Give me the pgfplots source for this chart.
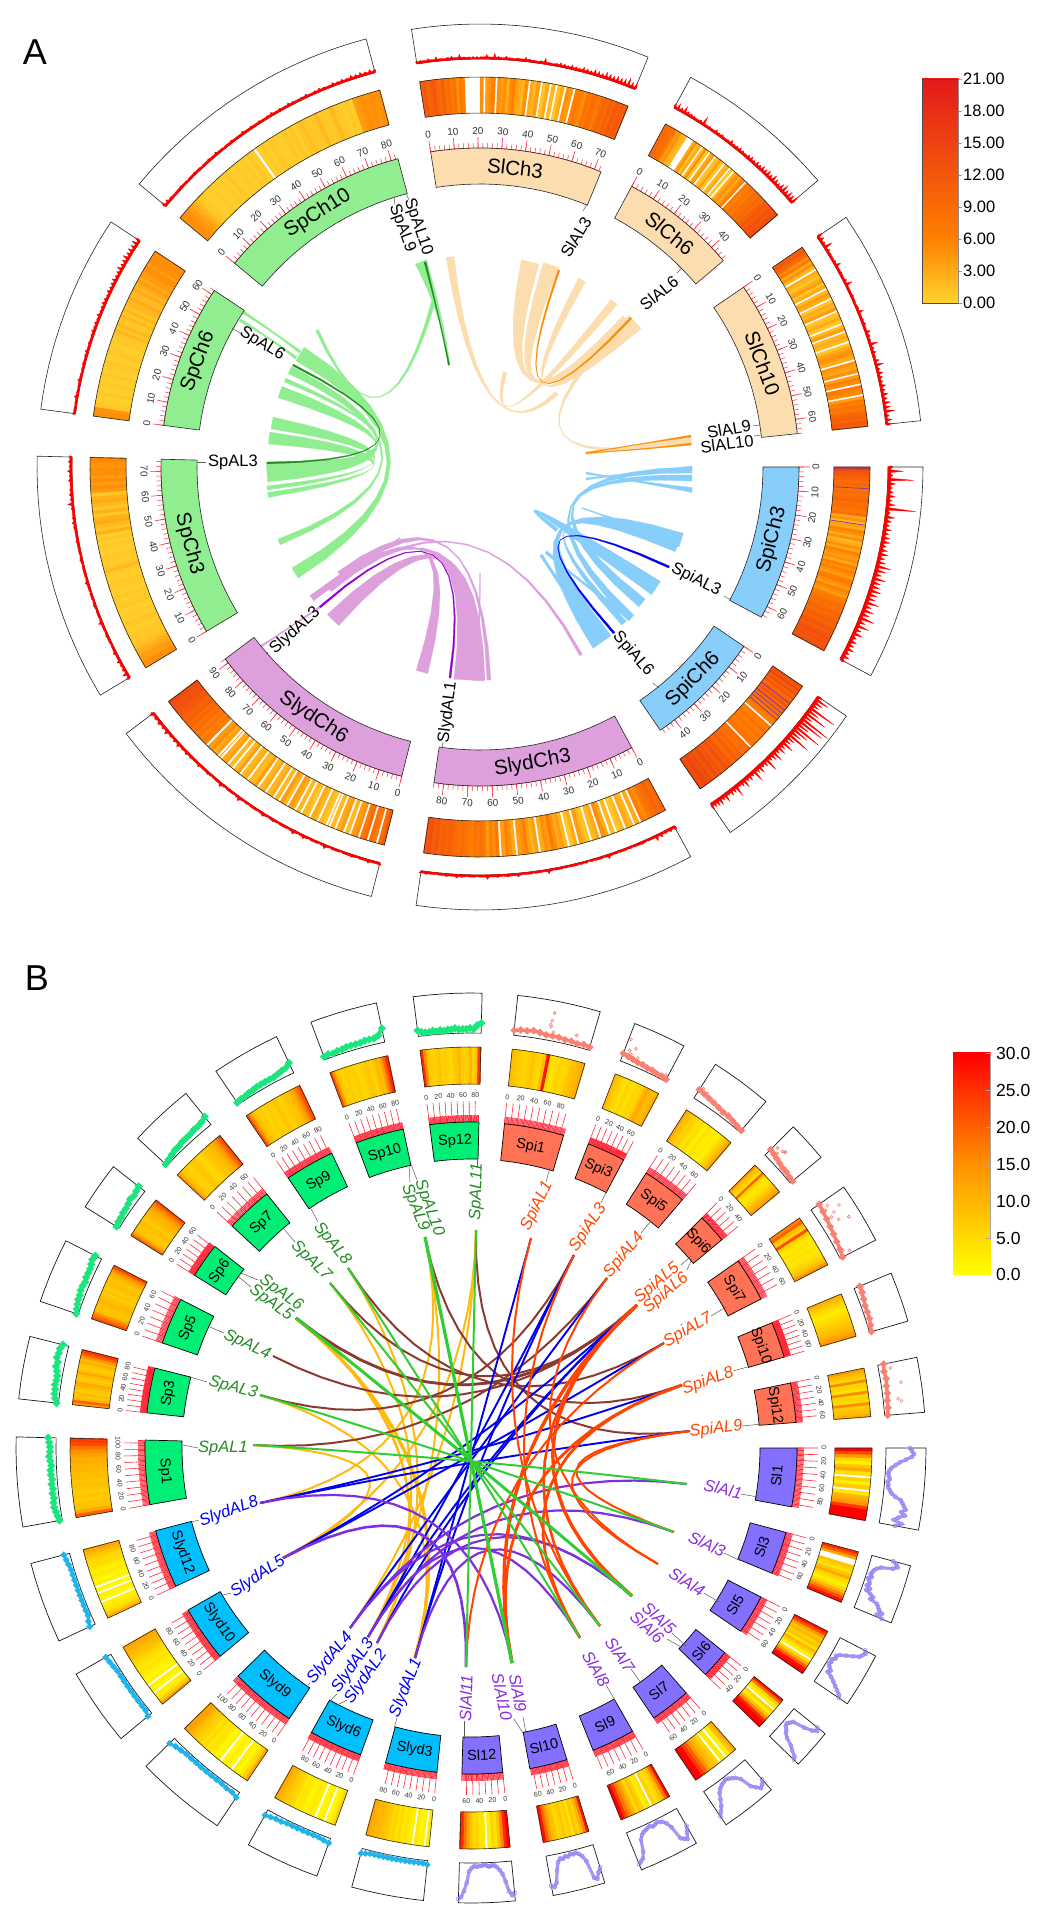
\documentclass[border=0pt]{standalone}
\usepackage{pgfplots}
\pgfplotsset{compat=1.18}
\usepackage{fontspec}
\setmainfont{Liberation Sans}
\definecolor{spc}{HTML}{90EE90}\definecolor{slc}{HTML}{FCDDB0}\definecolor{spic}{HTML}{87CEFA}\definecolor{slyc}{HTML}{DDA0DD}
\definecolor{dspc}{HTML}{228B22}\definecolor{dslc}{HTML}{FF8C00}\definecolor{dspic}{HTML}{0000EE}\definecolor{dslyc}{HTML}{9400D3}
\definecolor{bsp}{HTML}{00EE76}\definecolor{bspi}{HTML}{FF7256}\definecolor{bsl}{HTML}{8470FF}\definecolor{bsly}{HTML}{00BFFF}
\definecolor{tsp}{HTML}{19E67D}\definecolor{tspi}{HTML}{FA8072}\definecolor{tsl}{HTML}{8F80F5}\definecolor{tsly}{HTML}{1FB4EC}
\definecolor{lsp}{HTML}{228B22}\definecolor{lspi}{HTML}{FF4500}\definecolor{lsl}{HTML}{8A2BE2}\definecolor{lsly}{HTML}{0000EE}
\definecolor{lgr}{HTML}{32CD32}\definecolor{lbr}{HTML}{8B3A2F}\definecolor{lgo}{HTML}{FFB90F}\definecolor{lpu}{HTML}{7D30DE}
\definecolor{tickr}{HTML}{FF2A3A}\definecolor{purl}{HTML}{7030C0}
\pgfplotsset{
 colormap={ha}{rgb255(0)=(255,255,255) rgb255(0.8)=(255,255,255) rgb255(1)=(255,212,46) rgb255(7)=(255,128,0) rgb255(22)=(227,26,28) rgb255(31)=(227,26,28)},
 colormap={hb}{rgb255(0)=(255,255,255) rgb255(0.8)=(255,255,225) rgb255(1)=(255,255,0) rgb255(16)=(255,145,0) rgb255(31)=(255,0,0)},
}
\def\tfa{\fontsize{10}{10}\selectfont}
\def\tfb{\fontsize{7}{7}\selectfont}
\def\bfa{\fontsize{20.5}{20.5}\selectfont}
\def\bfb{\fontsize{14.5}{14.5}\selectfont}
\def\gla{\fontsize{16.5}{16.5}\selectfont}
\def\glb{\fontsize{16.5}{16.5}\selectfont\itshape}
\def\cba{\fontsize{16.5}{16.5}\selectfont}
\def\cbb{\fontsize{17.5}{17.5}\selectfont}
\def\tlw{.5}\def\trs{.75}\def\trb{2.2}
\def\ptadd#1#2{\pgfmathsetmacro\xx{\CX+(#1)*cos(#2)}\pgfmathsetmacro\yy{\CY-(#1)*sin(#2)}\xdef\cc{\cc(\xx,\yy)}}
\def\ptaddm#1#2#3{\pgfmathsetmacro\xx{\CX+(#1)*cos(#2)}\pgfmathsetmacro\yy{\CY-(#1)*sin(#2)}\xdef\cc{\cc(\xx,\yy)[#3]}}
\def\ptaddw#1#2{\pgfmathsetmacro\xx{\CX+(#1)*cos(#2)}\pgfmathsetmacro\yy{\CY-(#1)*sin(#2)}\xdef\cw{\cw(\xx,\yy)[-1]}}
\def\arcadd#1#2#3{\pgfmathtruncatemacro\nn{max(2,ceil(abs((#3)-(#2))/2))}\foreach \i in {0,...,\nn}{\ptadd{#1}{(#2)+((#3)-(#2))*\i/\nn}}}
\def\wedge#1#2#3#4#5{\gdef\cc{}\arcadd{#2}{#3}{#4}\arcadd{#1}{#4}{#3}\edef\tmp{\noexpand\addplot[#5] coordinates {\cc} --cycle;}\tmp}
\def\countlist#1{\gdef\hn{0}\foreach \v in {#1}{\pgfmathtruncatemacro\tt{\hn+1}\xdef\hn{\tt}}}
\def\heat#1#2#3#4#5#6{\countlist{#6}\gdef\cc{}\gdef\cw{}\gdef\hi{0}\gdef\pv{3}%
 \foreach \v in {#6}{%
  \pgfmathsetmacro\aa{(#3)+((#4)-(#3))*\hi/\hn}%
  \pgfmathsetmacro\ab{(#3)+((#4)-(#3))*(\hi+1)/\hn+((#4)>(#3)?0.05:-0.05)}%
  \ifdim\v pt=-1pt
   \ptaddm{#1}{\aa}{\pv}\ptaddm{#2}{\aa}{\pv}\ptaddm{#2}{\ab}{\pv}\ptaddm{#1}{\ab}{\pv}%
   \pgfmathsetmacro\ac{(\aa)+((#4)-(#3))*0.28/\hn}\pgfmathsetmacro\ad{(\aa)+((#4)-(#3))*0.7/\hn}%
   \ptaddw{#1}{\ac}\ptaddw{#2}{\ac}\ptaddw{#2}{\ad}\ptaddw{#1}{\ad}%
  \else
   \ptaddm{#1}{\aa}{\v}\ptaddm{#2}{\aa}{\v}\ptaddm{#2}{\ab}{\v}\ptaddm{#1}{\ab}{\v}%
   \ifdim\v pt>-1pt \xdef\pv{\v}\fi
  \fi
  \pgfmathtruncatemacro\tt{\hi+1}\xdef\hi{\tt}}%
 \edef\tmp{\noexpand\addplot[patch,patch type=rectangle,shader=flat,point meta=explicit,colormap name=#5] coordinates {\cc};}\tmp
 \ifx\cw\empty\else
 \edef\tmp{\noexpand\addplot[patch,patch type=rectangle,shader=flat,point meta=explicit,colormap name=#5] coordinates {\cw};}\tmp
 \fi
 \wedge{#1}{#2}{#3}{#4}{draw=black!85,line width=.6pt}}
% comb of spikes on a thin base band
\def\track#1#2#3#4#5{\countlist{#4}\gdef\cc{}\gdef\hi{0}\ptadd{#1}{#2}%
 \foreach \v in {#4}{\pgfmathsetmacro\aa{(#2)+((#3)-(#2))*\hi/(\hn-1)}\pgfmathsetmacro\da{((#3)-(#2))/(\hn-1)*0.3}%
  \ptadd{(#1)+\trb}{\aa-\da}\ptadd{(#1)+\trs*\v}{\aa}\ptadd{(#1)+\trb}{\aa+\da}\pgfmathtruncatemacro\tt{\hi+1}\xdef\hi{\tt}}%
 \arcadd{#1}{#3}{#2}\edef\tmp{\noexpand\addplot[#5] coordinates {\cc} --cycle;}\tmp}
\def\ptrack#1#2#3#4#5{\countlist{#4}\gdef\cc{}\gdef\hi{0}%
 \foreach \v in {#4}{\ptadd{(#1)+\v}{(#2)+((#3)-(#2))*\hi/(\hn-1)}\pgfmathtruncatemacro\tt{\hi+1}\xdef\hi{\tt}}%
 \edef\tmp{\noexpand\addplot[#5] coordinates {\cc};}\tmp}
\def\otrack#1#2#3#4#5{\gdef\cc{}\foreach \f/\v in {#4}{\ptadd{(#1)+\v}{(#2)+((#3)-(#2))*\f}}\edef\tmp{\noexpand\addplot[#5] coordinates {\cc};}\tmp}
\def\rad#1#2#3#4{\gdef\cc{}\ptadd{#1}{#3}\ptadd{#2}{#3}\edef\tmp{\noexpand\addplot[color=#4,line width=.6pt] coordinates {\cc};}\tmp}
\def\ticks#1#2#3#4#5#6#7#8#9{\gdef\cc{}\foreach \v in {0,#5,...,#3}{\pgfmathsetmacro\aa{(#1)+((#2)-(#1))*\v/(#3)}\ptadd{#4}{\aa}\ptadd{(#4)+(#6)}{\aa}\ptadd{#4}{\aa}}%
 \edef\tmp{\noexpand\addplot[color=tickr,line width=\tlw pt] coordinates {\cc};}\tmp
 \gdef\cc{}\foreach \v in {0,#7,...,#3}{\pgfmathsetmacro\aa{(#1)+((#2)-(#1))*\v/(#3)}\ptadd{#4}{\aa}\ptadd{(#4)+(#8)}{\aa}\ptadd{#4}{\aa}}%
 \edef\tmp{\noexpand\addplot[color=tickr,line width=.6pt] coordinates {\cc};}\tmp
 \ticklabels{#1}{#2}{#3}{#9}}
\def\ticklabels#1#2#3#4#5#6{\pgfmathsetmacro\mid{((#1)+(#2))/2}\pgfmathsetmacro\sm{sin(\mid)}%
 \foreach \v in {0,#4,...,#3}{\pgfmathsetmacro\aa{(#1)+((#2)-(#1))*\v/(#3)}%
  \pgfmathsetmacro\rr{\sm<0?\aa+90:\aa-90}\gdef\cc{}%
  \pgfmathsetmacro\xx{\CX+(#5)*cos(\aa)}\pgfmathsetmacro\yy{\CY-(#5)*sin(\aa)}%
  \edef\tmp{\noexpand\node[rotate=\rr,font=\noexpand#6,inner sep=0pt,text=black!80] at (axis cs:\xx,\yy) {\v};}\tmp}}
\def\bandlab#1#2#3#4#5{\pgfmathsetmacro\mid{((#2)+(#3))/2}\pgfmathsetmacro\sm{sin(\mid)}\pgfmathsetmacro\rr{\sm<0?\mid+90:\mid-90}%
 \pgfmathsetmacro\xx{\CX+(#1)*cos(\mid)}\pgfmathsetmacro\yy{\CY-(#1)*sin(\mid)}%
 \edef\tmp{\noexpand\node[rotate=\rr,font=\noexpand#5,inner sep=0pt] at (axis cs:\xx,\yy) {#4};}\tmp}
\def\secA#1#2#3#4#5#6#7{%
 \wedge{408}{443}{#2}{#3}{fill=white,draw=black!85,line width=.6pt}%
 \track{408}{#2}{#3}{#7}{fill=red,draw=red,line width=.3pt}%
 \heat{354}{390}{#2}{#3}{ha}{#6}%
 \ticks{#2}{#3}{#4}{319}{2}{5}{10}{11}{10}{336}{\tfa}%
 \wedge{283}{319}{#2}{#3}{fill=#5,draw=black!85,line width=.6pt}%
 \bandlab{301}{#2}{#3}{#1}{\bfa}}
\def\secB#1#2#3#4#5#6{%
 \wedge{415}{455}{#2}{#3}{fill=white,draw=black!90,line width=.7pt}%
 \heat{364}{401}{#2}{#3}{hb}{#6}%
 \ticks{#2}{#3}{#4}{326}{2}{7}{10}{21}{20}{353}{\tfb}%
 \wedge{289}{326}{#2}{#3}{fill=#5,draw=black,line width=.7pt}%
 \bandlab{307}{#2}{#3}{#1}{\bfb}}
\def\SPT#1#2#3{\ptrack{415}{#1}{#2}{#3}{color=tsp,line width=3.6pt,mark=*,mark size=1.6pt,mark options={fill=tsp}}}
\def\SYT#1#2#3{\ptrack{415}{#1}{#2}{#3}{color=tsly,line width=3.2pt,mark=*,mark size=1.2pt,mark options={fill=tsly}}}
\def\SIT#1#2#3#4{\ptrack{415}{#1}{#2}{#3}{color=tspi,line width=3.4pt,mark=*,mark size=1.4pt,mark options={fill=tspi}}\otrack{415}{#1}{#2}{#4}{only marks,mark=o,mark size=1.5pt,color=tspi,line width=.6pt}}
\def\SLT#1#2#3{\ptrack{415}{#1}{#2}{#3}{color=tsl,line width=3.2pt,opacity=.8,mark=o,mark size=2pt,mark options={draw=tsl,line width=.7pt}}}
\def\rib#1#2#3#4#5#6#7#8#9{%
 \pgfmathsetmacro\dxa{(#5)-(#2)}\pgfmathsetmacro\dya{(#6)-(#3)}\pgfmathsetmacro\la{veclen(\dxa,\dya)}%
 \pgfmathsetmacro\dxb{(#7)-(#5)}\pgfmathsetmacro\dyb{(#8)-(#6)}\pgfmathsetmacro\lb{veclen(\dxb,\dyb)}%
 \pgfmathsetmacro\nxa{-\dya/\la*(#4)/2}\pgfmathsetmacro\nya{\dxa/\la*(#4)/2}%
 \pgfmathsetmacro\nxb{-\dyb/\lb*(#9)/2}\pgfmathsetmacro\nyb{\dxb/\lb*(#9)/2}%
 \gdef\cc{}%
 \foreach \i in {0,...,12}{\pgfmathsetmacro\tq{\i/12}\pgfmathsetmacro\ua{(1-\tq)*(1-\tq)}\pgfmathsetmacro\ub{2*\tq*(1-\tq)}\pgfmathsetmacro\uc{\tq*\tq}%
  \pgfmathsetmacro\xx{\ua*((#2)+\nxa)+\ub*(#5)+\uc*((#7)+\nxb)}\pgfmathsetmacro\yy{\ua*((#3)+\nya)+\ub*(#6)+\uc*((#8)+\nyb)}\xdef\cc{\cc(\xx,\yy)}}%
 \foreach \i in {12,...,0}{\pgfmathsetmacro\tq{\i/12}\pgfmathsetmacro\ua{(1-\tq)*(1-\tq)}\pgfmathsetmacro\ub{2*\tq*(1-\tq)}\pgfmathsetmacro\uc{\tq*\tq}%
  \pgfmathsetmacro\xx{\ua*((#2)-\nxa)+\ub*(#5)+\uc*((#7)-\nxb)}\pgfmathsetmacro\yy{\ua*((#3)-\nya)+\ub*(#6)+\uc*((#8)-\nyb)}\xdef\cc{\cc(\xx,\yy)}}%
 \edef\tmp{\noexpand\addplot[fill=#1,draw=#1,line width=.2pt] coordinates {\cc} --cycle;}\tmp}
\def\lk#1#2#3#4#5#6{\gdef\cc{}\foreach \i in {0,...,16}{\pgfmathsetmacro\tq{\i/16}\pgfmathsetmacro\ua{(1-\tq)*(1-\tq)}\pgfmathsetmacro\ub{2*\tq*(1-\tq)}\pgfmathsetmacro\uc{\tq*\tq}%
  \pgfmathsetmacro\xx{\ua*(#3)+\ub*471+\uc*(#5)}\pgfmathsetmacro\yy{\ua*(#4)+\ub*1458+\uc*(#6)}\xdef\cc{\cc(\xx,\yy)}}%
 \edef\tmp{\noexpand\addplot[color=#1,line width=#2pt] coordinates {\cc};}\tmp}
\def\con#1#2#3#4{\addplot[color=black!65,line width=.5pt] coordinates {(#1,#2)(#3,#4)};}
\def\glA#1#2#3#4{\node[rotate=#3,font=\gla,inner sep=0pt] at (axis cs:#1,#2) {#4};}
\def\glB#1#2#3#4#5{\node[rotate=#3,font=\glb,inner sep=0pt,text=#5] at (axis cs:#1,#2) {#4};}
\def\cbar#1#2#3#4#5#6{\gdef\cc{}\foreach \i in {0,...,59}{\pgfmathsetmacro\vv{(#5)*(\i+.5)/60}\pgfmathsetmacro\ya{(#4)+((#3)-(#4))*\i/60}\pgfmathsetmacro\yb{(#4)+((#3)-(#4))*(\i+1.1)/60}%
 \xdef\cc{\cc(#1,\ya)[\vv](#2,\ya)[\vv](#2,\yb)[\vv](#1,\yb)[\vv]}}%
 \edef\tmp{\noexpand\addplot[patch,patch type=rectangle,shader=flat,point meta=explicit,colormap name=#6] coordinates {\cc};}\tmp}
\begin{document}
\begin{tikzpicture}
\begin{axis}[scale only axis,width=1048pt,height=1921pt,xmin=0,xmax=1048,ymin=0,ymax=1921,y dir=reverse,hide axis,clip=false,point meta min=-1,point meta max=30]
\path (axis cs:0,0) rectangle (axis cs:1048,1921);
\addplot[draw=none] coordinates {(0,0)(1048,1921)};
\def\CX{480}\def\CY{467}
% ---------- panel A ribbons
\rib{spc}{421}{262}{12}{444}{320}{449}{365}{2}
\rib{spc}{317}{330}{3}{384}{479}{434}{300}{4}
\rib{spc}{243}{312}{3}{275}{333}{300}{352}{3}
\rib{spc}{240}{320}{3}{270}{338}{296}{358}{3}
\rib{spc}{300}{354}{16}{480}{462}{295}{573}{12}
\rib{spc}{290}{370}{8}{480}{462}{279}{542}{6}
\rib{spc}{280}{392}{12}{480}{462}{267}{472}{20}
\rib{spc}{272}{423}{12}{480}{462}{267}{488}{4}
\rib{spc}{269}{438}{12}{480}{462}{268}{495}{5}
\rib{spc}{285}{380}{4}{480}{462}{267}{470}{10}
\rib{dspc}{293}{365}{1.8}{480}{460}{267}{463}{1.8}
\rib{dspc}{425}{262}{2}{440}{320}{449}{365}{1.5}
\rib{slc}{530}{262}{18}{480}{467}{635}{322}{18}
\rib{slc}{551}{265}{16}{480}{467}{625}{318}{6}
\rib{slc}{582}{280}{8}{480}{467}{637}{325}{10}
\rib{slc}{614}{302}{8}{480}{467}{505}{372}{4}
\rib{slc}{450}{257}{8}{480}{467}{557}{393}{4}
\rib{slc}{627}{320}{6}{480}{467}{650}{447}{4}
\rib{slc}{691}{440}{10}{640}{447}{586}{453}{3}
\rib{dslc}{559}{270}{2}{489}{470}{631}{318}{2}
\rib{dslc}{691}{436}{2}{640}{444}{586}{453}{1}
\rib{dslc}{691}{444}{2}{640}{450}{586}{453}{1}
\rib{spic}{681}{540}{14}{480}{470}{602}{642}{22}
\rib{spic}{677}{547}{10}{480}{470}{624}{623}{6}
\rib{spic}{692}{470}{6}{480}{470}{631}{618}{8}
\rib{spic}{692}{478}{6}{480}{470}{642}{603}{10}
\rib{spic}{692}{490}{5}{640}{482}{586}{473}{2}
\rib{spic}{692}{468}{4}{640}{472}{586}{479}{2}
\rib{spic}{582}{508}{1}{630}{525}{681}{540}{14}
\rib{spic}{656}{588}{16}{480}{470}{557}{530}{4}
\rib{spic}{541}{555}{3}{570}{600}{600}{640}{16}
\rib{spic}{546}{552}{3}{590}{590}{631}{618}{6}
\rib{dspic}{669}{567}{2.2}{479}{480}{614}{633}{2.2}
\rib{slyc}{312}{598}{6}{480}{467}{469}{680}{30}
\rib{slyc}{333}{620}{16}{480}{467}{475}{680}{20}
\rib{slyc}{422}{672}{12}{480}{467}{312}{598}{6}
\rib{slyc}{489}{680}{4}{480}{467}{340}{575}{8}
\rib{slyc}{581}{655}{3}{480}{467}{330}{590}{4}
\rib{slyc}{400}{538}{1}{360}{565}{312}{598}{6}
\rib{slyc}{260}{647}{2}{290}{627}{320}{607}{2}
\rib{slyc}{480}{573}{1}{480}{630}{475}{680}{6}
\rib{dslyc}{320}{607}{2}{480}{467}{450}{678}{2}
% ---------- panel A sectors
\secA{SlCh3}{98.9}{67.7}{73}{slc}{11,12,10,11,12,10,9,11,8,9,7,8,5,7,6,-2,-2,-2,-2,-2,5,-1,4,5,6,-1,5,4,5,3,5,6,4,3,2,5,-1,3,2,4,-1,1,3,-1,2,-1,1,3,-1,5,4,-1,6,7,6,5,8,7,9,8,7,9,10,9,11,10,12,11,12,11}{3,4,3,5,3,6,3,2,4,5,3,7,3,2,1,1,1,3,6,3,8,4,2,5,3,2,4,3,6,4,3,2,4,8,3,2,4,6,5,4,6,5,4,7,6,5,8,7,6,9,8,7,9,8,9,12,8,9}
\secA{SlCh6}{61.6}{40.3}{47}{slc}{9,10,8,9,8,6,4,5,3,2,2,-2,-2,-2,3,5,1,3,-1,2,5,1,-1,3,4,-1,1,2,4,1,-1,2,3,-1,1,-1,2,4,5,3,5,6,-1,7,6,7,8,7,8,9,8,10,9,10,11,12,11,12,13,12,13,14}{7,9,6,10,6,5,4,3,5,12,3,4,3,6,4,5,3,4,7,4,5,6,5,4,6,7,5,7,6,8,7,9,7,10,8,6,9,12,8,10,9,12}
\secA{SlCh10}{34.3}{6}{66}{slc}{11,12,10,9,5,7,3,5,2,-1,3,2,1,3,4,1,3,-1,2,4,3,-1,1,3,2,4,-1,1,2,3,1,-1,2,4,-1,2,3,2,-1,1,3,4,5,4,3,-1,5,4,3,5,-1,4,6,5,-1,7,6,5,-1,4,7,6,8,7,9,10,11,10,12,11}{9,7,5,12,5,4,3,4,8,3,4,3,5,10,3,3,4,3,2,4,8,3,4,5,3,7,5,4,12,5,6,4,7,11,5,8,6,5,8,6,9,7,10,9,14,6,9,8}
\def\trs{1}\def\trb{3}
\secA{SpiCh3}{0}{-28.1}{65}{spic}{16,13,12,11,10,9,10,9,8,9,8,9,10,8,9,8,7,9,3,5,2,4,3,6,5,3,5,2,3,5,3,6,5,4,5,3,6,5,6,5,4,6,7,5,4,6,5,4,6,7,8,9,8,9,10,9,10,11,10,11,12,11,12,13,12,13,12,13}{5,15,5,26,8,5,6,8,5,9,30,5,10,7,6,8,6,8,9,6,8,10,7,9,15,11,8,13,9,10,12,10,9,14,8,12,9,16,8,13,7,10,6,8,7,9,6,8,6}
\rad{354}{390}{-0.3}{purl}\rad{354}{390}{-3.2}{purl}\rad{354}{390}{-8.6}{purl}
\secA{SpiCh6}{-34.2}{-55.6}{47}{spic}{13,12,14,11,13,10,12,9,11,10,13,9,11,8,9,8,7,8,7,6,-1,7,6,7,8,6,7,8,6,7,8,7,-1,9,8,9,8,10,9,10,11,9,10,12,11,13,12,11,13,12,14,13,12,14,13,14,15,13,14}{6,15,10,8,30,13,24,10,33,28,14,30,18,12,25,10,8,14,7,10,6,12,8,6,15,7,5,9,6,13,5,7,5,10,6,4,12,6,7,4,9,5,8,7,6,8}
\rad{354}{390}{-37.4}{purl}\rad{354}{390}{-38.6}{purl}\rad{354}{390}{-39.2}{purl}\rad{354}{390}{-39.8}{purl}\rad{354}{390}{-40.4}{purl}
\def\trs{.75}\def\trb{2.2}
\secA{SlydCh3}{-61.6}{-98.3}{84}{slyc}{10,9,10,9,8,7,5,6,-1,3,-1,2,3,-1,2,1,-1,2,-1,3,5,-1,3,2,-1,1,2,4,-1,3,1,-1,2,4,3,5,7,4,5,3,-1,4,2,4,6,5,4,-1,3,5,6,4,-1,7,5,6,4,7,8,7,8,6,7,8,9,8,9,10,11,10,11,10,12,11,13,12}{6,5,4,6,8,3,2,4,3,2,2,3,2,2,6,2,3,2,1,2,2,3,2,2,3,2,6,2,3,2,3,2,5,3,4,2,4,3,6,3,2,3,2,4,5,3,4,3,2,3,4,3}
\secA{SlydCh6}{-104.2}{-143}{92}{slyc}{12,9,-1,7,8,-1,9,7,-1,5,4,-1,2,-1,4,3,-1,2,-1,-1,1,2,-1,2,3,-1,1,2,-1,2,-1,3,4,-1,2,4,-1,2,-1,3,2,-1,3,2,-1,4,2,2,-1,3,2,-1,4,2,-1,2,-1,4,3,-1,-1,4,3,5,4,-1,6,7,6,8,7,9,8,10,9,11,10,11,12,12,13,13,13,14}{4,3,5,3,2,4,3,2,3,2,6,2,3,2,5,2,6,2,3,2,4,2,5,2,3,2,2,6,2,3,2,6,3,2,4,3,5,3,4,5,4,6,5,4,7,5,6,5,7}
\secA{SpCh3}{211}{178.6}{75}{spc}{5,5,4,4,3,2.5,1.5,1,0.7,1,0.7,0.4,0.7,1,0.4,0.7,0.4,0.4,1,0.7,0.4,1,0.4,0.4,0.7,1,0.4,0.4,0.7,2,1,0.4,0.7,1,0.4,0.4,0.7,0.4,1,0.4,2.5,1,2,3,2.5,1,2.5,1,2,3,2.5,1,4,5,4,5,4,5,5,4.5,5,5.5}{6,8,5,4,6,3,5,3,2,3,4,2,3,6,2,3,2,4,2,3,2,3,5,2,3,3,2,4,2,3,3,4,3,3,4,5,4,3,4,8,4,5,4,3,5,4,6,4,5,4}
\secA{SpCh6}{172.5}{146.4}{62}{spc}{5,5,4.5,1,0.7,0.4,0.4,1,0.4,0.4,0.7,0.4,0.4,1,0.4,0.4,0.7,1,0.4,0.4,1,0.7,0.4,0.4,1,0.7,1,2,1,2,1,1,2,1,2,1,2,2,3,2,2,3,2,3,4,3,4,4,5,5,4,5,5,5,5}{4,3,2,3,5,3,2,3,5,3,2,3,4,3,4,5,3,4,3,4,5,4,5,4,6,4,5,6,5,4,6,5,6,7,5,6,8,6,7,9,7,8,7,9,8}
\secA{SpCh10}{140.3}{104.9}{83}{spc}{5,5,4.5,4,3,2,1,0.7,0.4,0.4,0.7,0.4,0.4,0.7,0.4,1,0.4,0.4,0.7,0.4,0.7,0.4,1,0.4,-1,0.4,0.7,0.4,1,0.7,0.4,0.4,1,0.7,1,0.4,1,1.5,1,0.7,1,2,1,0.7,1,2,1,0.7,0.4,1,0.4,4,4.5,5,4.5,5,4.5,5}{8,6,4,3,3,4,3,2,3,4,3,2,3,4,3,5,3,2,3,4,3,3,5,3,4,3,4,3,4,5,3,4,3,5,4,3,4,5,3,4,5,4,3,5,4,5,4,6,5,6,5,6,5}
% gene labels A
\glA{418}{227}{-71}{SpAL10}\glA{402}{228}{-70}{SpAL9}\glA{262}{344}{-32}{SpAL6}\glA{233}{462}{0}{SpAL3}
\glA{576}{237}{59}{SlAL3}\glA{659}{293}{39}{SlAL6}\glA{729}{429}{10}{SlAL9}\glA{727}{444}{7}{SlAL10}
\glA{696}{580}{-27}{SpiAL3}\glA{633}{654}{-49}{SpiAL6}\glA{295}{631}{42}{SlydAL3}\glA{448}{712}{83}{SlydAL1}
\con{406}{193}{409}{200}\con{394}{197}{395}{205}\con{232}{328}{240}{333}\con{197}{462}{206}{462}
\con{587}{204}{583}{211}\con{682}{268}{677}{273}\con{760}{425}{753}{426}\con{761}{435}{754}{436}
\con{731}{600}{724}{596}\con{659}{688}{653}{683}\con{268}{652}{266}{654}\con{442}{748}{443}{742}
% colour bar A
\cbar{922}{958}{79}{303}{21}{ha}
\addplot[draw=black!70,line width=.6pt] coordinates {(922,79)(958,79)(958,303)(922,303)} --cycle;
\addplot[color=black!45,line width=.5pt] coordinates {(958,79)(962,79)(958,79)(958,111)(962,111)(958,111)(958,143)(962,143)(958,143)(958,175)(962,175)(958,175)(958,207)(962,207)(958,207)(958,239)(962,239)(958,239)(958,271)(962,271)(958,271)(958,303)(962,303)};
\node[font=\cba,anchor=west,inner sep=0pt] at (axis cs:963,79) {21.00};
\node[font=\cba,anchor=west,inner sep=0pt] at (axis cs:963,111) {18.00};
\node[font=\cba,anchor=west,inner sep=0pt] at (axis cs:963,143) {15.00};
\node[font=\cba,anchor=west,inner sep=0pt] at (axis cs:963,175) {12.00};
\node[font=\cba,anchor=west,inner sep=0pt] at (axis cs:963,207) {9.00};
\node[font=\cba,anchor=west,inner sep=0pt] at (axis cs:963,239) {6.00};
\node[font=\cba,anchor=west,inner sep=0pt] at (axis cs:963,271) {3.00};
\node[font=\cba,anchor=west,inner sep=0pt] at (axis cs:963,303) {0.00};
\node[font=\fontsize{36}{36}\selectfont,inner sep=0pt] at (axis cs:35,52) {A};
\node[font=\fontsize{36}{36}\selectfont,inner sep=0pt] at (axis cs:37,978) {B};
% ---------- panel B links
\def\CX{471}\def\CY{1448}\def\tlw{.75}
\lk{lgo}{3.4}{296}{1318}{415}{1658}
\lk{lgo}{2.6}{296}{1318}{377}{1643}
\lk{lgo}{2}{425}{1237}{368}{1637}
\lk{lgo}{2}{476}{1230}{350}{1628}
\lk{lgo}{2}{348}{1268}{377}{1643}
\lk{lgo}{2}{260}{1395}{415}{1658}
\lk{lgo}{2}{253}{1445}{283}{1558}
\lk{lgo}{2}{260}{1503}{425}{1237}
\lk{lgo}{2}{283}{1558}{476}{1230}
\lk{lgo}{2}{330}{1283}{368}{1637}
\lk{lbr}{2}{253}{1445}{607}{1278}
\lk{lbr}{2}{260}{1395}{574}{1255}
\lk{lbr}{2}{273}{1356}{637}{1305}
\lk{lbr}{2.8}{296}{1318}{637}{1305}
\lk{lbr}{2}{296}{1318}{637}{1305}
\lk{lbr}{2}{330}{1283}{637}{1305}
\lk{lbr}{2}{348}{1268}{664}{1343}
\lk{lbr}{2}{425}{1237}{682}{1385}
\lk{lbr}{2}{476}{1230}{690}{1431}
\lk{dspic}{1.9}{415}{1658}{574}{1255}
\lk{dspic}{1.9}{415}{1658}{531}{1238}
\lk{dspic}{1.9}{377}{1643}{637}{1305}
\lk{dspic}{1.9}{368}{1637}{637}{1305}
\lk{dspic}{1.9}{350}{1628}{607}{1278}
\lk{dspic}{1.9}{283}{1558}{664}{1343}
\lk{dspic}{1.9}{283}{1558}{637}{1305}
\lk{dspic}{1.9}{260}{1503}{690}{1431}
\lk{dspic}{1.9}{260}{1503}{682}{1385}
\lk{dspic}{1.9}{368}{1637}{574}{1255}
\lk{lpu}{2.2}{260}{1503}{512}{1663}
\lk{lpu}{2.6}{283}{1558}{466}{1667}
\lk{lpu}{2.2}{350}{1628}{632}{1596}
\lk{lpu}{2.2}{368}{1637}{674}{1532}
\lk{lpu}{2.2}{377}{1643}{632}{1596}
\lk{lpu}{2.2}{415}{1658}{600}{1626}
\lk{lpu}{2.2}{350}{1628}{687}{1484}
\lk{lpu}{2.2}{368}{1637}{580}{1638}
\lk{lspi}{2}{531}{1238}{600}{1626}
\lk{lspi}{2}{574}{1255}{580}{1638}
\lk{lspi}{2}{607}{1278}{658}{1564}
\lk{lspi}{3.4}{637}{1305}{632}{1596}
\lk{lspi}{3.4}{637}{1305}{512}{1663}
\lk{lspi}{2.6}{637}{1305}{600}{1626}
\lk{lspi}{2}{664}{1343}{466}{1667}
\lk{lspi}{2.8}{682}{1385}{580}{1638}
\lk{lspi}{2.8}{682}{1385}{512}{1663}
\lk{lspi}{2}{690}{1431}{674}{1532}
\lk{lspi}{2}{690}{1431}{658}{1564}
\lk{lgr}{2}{253}{1445}{687}{1484}
\lk{lgr}{2}{260}{1395}{674}{1532}
\lk{lgr}{3}{296}{1318}{632}{1596}
\lk{lgr}{2}{330}{1283}{600}{1626}
\lk{lgr}{2}{348}{1268}{580}{1638}
\lk{lgr}{3.2}{425}{1237}{512}{1663}
\lk{lgr}{2}{476}{1230}{466}{1667}
% ---------- panel B sectors
\secB{Sp1}{190}{178.6}{105}{bsp}{20,12,8,8,7,8,7,8,9,8,9,9,10,10,11,11,13,15,18,22,24}
\secB{Sp3}{173.8}{165.8}{88}{bsp}{14,20,10,8,9,7,8,10,12,8,7,9,12,8,7,8,11,9,14,20,24}
\secB{Sp5}{161.2}{152.9}{72}{bsp}{22,18,14,9,8,8,9,10,9,8,7,8,7,8,9,8,8,10,12,16,22}
\secB{Sp6}{148}{141.8}{63}{bsp}{20,15,10,8,8,7,8,9,8,7,8,9,10,10,11,13,15,18,22}
\secB{Sp7}{137.1}{128.8}{70}{bsp}{15,10,8,7,6,6,7,8,7,6,5,6,7,8,8,9,10,12,14,18,22}
\secB{Sp9}{124.1}{115.3}{84}{bsp}{22,15,10,8,7,7,6,7,7,6,7,8,7,6,7,8,8,9,11,14,18,22}
\secB{Sp10}{110.6}{102}{84}{bsp}{22,14,8,7,6,7,6,6,7,6,5,6,7,8,7,6,8,10,9,14,20,26}
\secB{Sp12}{97.3}{88.6}{87}{bsp}{26,16,8,7,6,7,8,6,7,6,5,7,8,10,7,6,7,10,6,8,24}
\secB{Spi1}{84.1}{73.5}{96}{bspi}{9,8,7,6,6,7,8,6,5,9,28,5,4,5,6,5,6,8,9,10,11}
\secB{Spi3}{68.9}{62.1}{70}{bspi}{10,8,7,6,5,4,6,5,4,5,6,5,7,10,12,10,9,10,11}
\secB{Spi5}{57.5}{49.6}{70}{bspi}{12,9,8,6,7,5,4,5,3,2,4,3,2,3,2,3,5,7,9,12}
\secB{Spi6}{44.9}{39.7}{50}{bspi}{15,9,7,5,20,6,4,3,4,5,7,9,11,13}
\secB{Spi7}{35}{27.2}{68}{bspi}{16,20,9,7,22,6,4,3,4,3,4,3,4,5,7,9,14}
\secB{Spi10}{22.6}{16.2}{70}{bspi}{11,9,7,5,4,3,4,5,6,7,8,9,10,12,14}
\secB{Spi12}{11.5}{4.5}{68}{bspi}{14,10,8,6,16,5,6,4,16,5,6,5,16,7,8,9,11}
\secB{Sl1}{0}{-10.4}{95}{bsl}{30,22,14,5,2,8,12,4,-1,6,2,7,-1,3,10,12,14,24,30,30,30}
\secB{Sl3}{-15}{-22.6}{72}{bsl}{26,20,12,-2,-2,8,6,4,8,12,6,4,2,5,10,16,22,28}
\secB{Sl5}{-27.2}{-34.2}{65}{bsl}{28,22,14,8,10,6,8,4,10,6,2,-1,5,12,20,28,30}
\secB{Sl6}{-38.9}{-44}{50}{bsl}{28,18,6,2,-1,6,2,8,16,26,30,30}
\secB{Sl7}{-48.7}{-55.9}{68}{bsl}{12,8,2,-1,3,-1,6,8,10,14,20,24,30,30}
\secB{Sl9}{-60.3}{-68}{72}{bsl}{28,18,10,6,4,6,-1,4,2,6,8,5,10,14,18,24,30}
\secB{Sl10}{-72.9}{-79.6}{65}{bsl}{28,16,10,6,8,4,7,5,8,6,5,8,10,14,20,28}
\secB{Sl12}{-84.4}{-91.6}{68}{bsl}{30,26,16,8,4,6,2,-1,4,3,6,5,8,12,18,26}
\secB{Slyd3}{-96}{-105.2}{88}{bsly}{3,-1,2,1,3,-1,2,3,4,3,5,4,6,5,7,8,9,10,10,11,12}
\secB{Slyd6}{-109.8}{-119.3}{92}{bsly}{6,3,1,-1,2,1,-1,2,3,2,1,3,4,3,5,6,7,9,10,12}
\secB{Slyd9}{-123.9}{-135.6}{108}{bsly}{12,6,3,1,2,-1,1,2,1,-1,2,1,3,4,3,5,4,6,7,8,10,12,13}
\secB{Slyd10}{-140.3}{-150.2}{95}{bsly}{13,7,3,2,-1,1,2,-1,2,1,2,3,4,3,4,5,6,8,9,10,11,12}
\secB{Slyd12}{-154.9}{-165.3}{97}{bsly}{11,7,4,3,2,-1,1,2,-1,1,-1,2,1,2,3,2,4,5,5,6,8,10,12}
% panel B tracks
\SPT{190}{178.6}{3,4,5,6,6,5,6,5,6,5,6,6,5,6,7,6,6,7,8}
\SPT{173.8}{165.8}{2,4,5,5,6,5,5,6,8,7,9,8,8,6}
\SPT{161.2}{152.9}{2,3,4,5,5,6,6,5,6,6,6,7,8,7}
\SPT{148}{141.8}{3,4,4,5,5,6,7,6,7,8}
\SPT{137.1}{128.8}{2,3,4,5,5,6,6,6,7,7,8,10}
\SPT{124.1}{115.3}{2,3,3,4,4,5,5,5,5,5,6,7,8,11}
\SPT{110.6}{102}{3,4,3,4,4,5,5,5,5,6,6,6,8,14}
\SPT{97.3}{88.6}{6,4,3,3,4,3,4,3,4,4,5,4,4,4,5,4,8,10}
\SIT{84.1}{73.5}{5,6,6,7,6,5,5,5,4,4,3,4,3}{.33/8,.47/28,.46/20,.45/16,.46/14,.5/9,.8/11}
\SIT{68.9}{62.1}{8,7,6,5,5,4,4,3,3,2}{.04/24,.1/13,.2/17,.15/10,.3/9,.95/6}
\SIT{57.5}{49.6}{10,9,8,7,6,5,5,4,3,2}{.05/13,.15/11,.35/6}
\SIT{44.9}{39.7}{8,7,6,5,4,4,3,3}{.1/14,.2/10,.25/15,.3/16,.32/17}
\SIT{35}{27.2}{10,9,8,7,6,5,4,3}{.1/16,.15/12,.2/26,.25/18,.3/13,.4/18,.45/28,.95/12,.9/6}
\SIT{22.6}{16.2}{6,6,5,4,4,4,3,2}{.03/8,.2/5}
\SIT{11.5}{4.5}{6,5,6,5,5,4,4,3}{.1/12,.4/20,.7/15,.75/18}
\SLT{0}{-10.4}{24,26,28,26,20,14,10,6,4,3,4,5,3,4,4,6,8,12,18,20,22,24,20,24,18,14,22,16}
\SLT{-15}{-22.6}{22,26,28,24,12,8,6,5,4,6,3,5,6,4,8,5,10,14,12,20,22,24,28,24,30}
\SLT{-27.2}{-34.2}{28,30,28,26,20,14,8,5,6,3,4,3,5,8,6,12,16,20,24,28,30}
\SLT{-38.9}{-44}{30,32,28,20,8,6,4,5,8,10,14,22,26,32,34}
\SLT{-48.7}{-55.9}{26,30,32,28,24,12,8,6,4,3,4,5,7,10,16,22,26,30}
\SLT{-60.3}{-68}{20,26,32,30,28,14,8,5,4,3,4,5,3,4,5,6,8,12,24,30,32,34}
\SLT{-72.9}{-79.6}{24,28,34,32,14,8,5,3,4,3,5,4,6,5,8,16,28,32,30}
\SLT{-84.4}{-91.6}{32,34,30,20,12,8,5,3,3,4,3,2,3,3,4,3,5,8,20,28,34,36}
\SYT{-96}{-105.2}{4,3,3,3,3,3,3,3,3,3,3,3,3,3,4,5}
\SYT{-109.8}{-119.3}{5,4,3,3,3,3,3,3,3,4,4,5,6}
\SYT{-123.9}{-135.6}{6,4,4,3,3,3,3,3,3,3,3,4,5,7}
\SYT{-140.3}{-150.2}{5,3,3,3,3,3,3,3,3,3,4,5,6}
\SYT{-154.9}{-165.3}{6,5,3,3,3,3,3,3,3,3,3,3,4,5,6}
% connectors B
\con{183}{1445}{198}{1448}\con{190}{1377}{207}{1382}\con{210}{1327}{224}{1333}\con{241}{1273}{258}{1280}\con{239}{1277}{251}{1287}\con{283}{1228}{295}{1242}\con{310}{1207}{318}{1222}\con{409}{1165}{410}{1182}\con{411}{1164}{417}{1180}\con{477}{1159}{477}{1167}
\con{550}{1168}{546}{1182}\con{607}{1190}{601}{1203}\con{651}{1221}{641}{1233}\con{691}{1256}{681}{1265}\con{692}{1259}{687}{1270}\con{726}{1307}{711}{1316}\con{751}{1366}{733}{1371}\con{761}{1424}{742}{1426}
\con{758}{1497}{741}{1494}\con{741}{1561}{724}{1553}\con{719}{1602}{704}{1593}\con{686}{1646}{672}{1633}\con{681}{1647}{667}{1639}\con{641}{1683}{631}{1669}\con{616}{1702}{606}{1685}\con{526}{1733}{523}{1717}\con{523}{1733}{514}{1719}\con{464}{1739}{464}{1721}
\con{394}{1729}{397}{1718}\con{329}{1702}{337}{1694}\con{335}{1706}{347}{1700}\con{308}{1685}{310}{1683}\con{223}{1595}{231}{1593}\con{191}{1522}{199}{1520}
% labels B
\glB{223}{1448}{0}{SpAL1}{lsp}\glB{233}{1388}{-15}{SpAL3}{lsp}\glB{247}{1345}{-25}{SpAL4}{lsp}\glB{271}{1303}{-36}{SpAL5}{lsp}\glB{281}{1293}{-36}{SpAL6}{lsp}\glB{311}{1261}{-45}{SpAL7}{lsp}\glB{332}{1244}{-51}{SpAL8}{lsp}\glB{415}{1208}{-68}{SpAL9}{lsp}\glB{429}{1208}{-70}{SpAL10}{lsp}\glB{477}{1192}{88}{SpAL11}{lsp}
\glB{537}{1206}{64}{SpiAL1}{lspi}\glB{588}{1228}{56}{SpiAL3}{lspi}\glB{624}{1255}{50}{SpiAL4}{lspi}\glB{657}{1283}{40}{SpiAL5}{lspi}\glB{666}{1293}{40}{SpiAL6}{lspi}\glB{688}{1330}{30}{SpiAL7}{lspi}\glB{708}{1381}{20}{SpiAL8}{lspi}\glB{716}{1429}{7}{SpiAL9}{lspi}
\glB{723}{1489}{-13}{SlAl1}{lsl}\glB{707}{1544}{-25}{SlAl3}{lsl}\glB{687}{1582}{-32}{SlAl4}{lsl}\glB{659}{1618}{-42}{SlAl5}{lsl}\glB{647}{1627}{-42}{SlAl6}{lsl}\glB{620}{1655}{-55}{SlAl7}{lsl}\glB{596}{1669}{-60}{SlAl8}{lsl}\glB{518}{1693}{-80}{SlAl9}{lsl}\glB{502}{1697}{-78}{SlAl10}{lsl}\glB{466}{1698}{88}{SlAl11}{lsl}
\glB{406}{1688}{68}{SlydAL1}{lsly}\glB{366}{1677}{55}{SlydAL2}{lsly}\glB{353}{1666}{55}{SlydAL3}{lsly}\glB{330}{1658}{50}{SlydAL4}{lsly}\glB{258}{1577}{33}{SlydAL5}{lsly}\glB{229}{1512}{20}{SlydAL8}{lsly}
% colour bar B
\cbar{953}{990}{1053}{1274}{30}{hb}
\addplot[color=black!35,line width=.5pt] coordinates {(990,1053)(986,1053)(990,1053)(990,1090)(986,1090)(990,1090)(990,1127)(986,1127)(990,1127)(990,1164)(986,1164)(990,1164)(990,1201)(986,1201)(990,1201)(990,1238)(986,1238)};
\node[font=\cbb,anchor=west,inner sep=0pt] at (axis cs:996,1053) {30.0};
\node[font=\cbb,anchor=west,inner sep=0pt] at (axis cs:996,1090) {25.0};
\node[font=\cbb,anchor=west,inner sep=0pt] at (axis cs:996,1127) {20.0};
\node[font=\cbb,anchor=west,inner sep=0pt] at (axis cs:996,1164) {15.0};
\node[font=\cbb,anchor=west,inner sep=0pt] at (axis cs:996,1201) {10.0};
\node[font=\cbb,anchor=west,inner sep=0pt] at (axis cs:996,1238) {5.0};
\node[font=\cbb,anchor=west,inner sep=0pt] at (axis cs:996,1274) {0.0};
\end{axis}
\end{tikzpicture}
\end{document}
